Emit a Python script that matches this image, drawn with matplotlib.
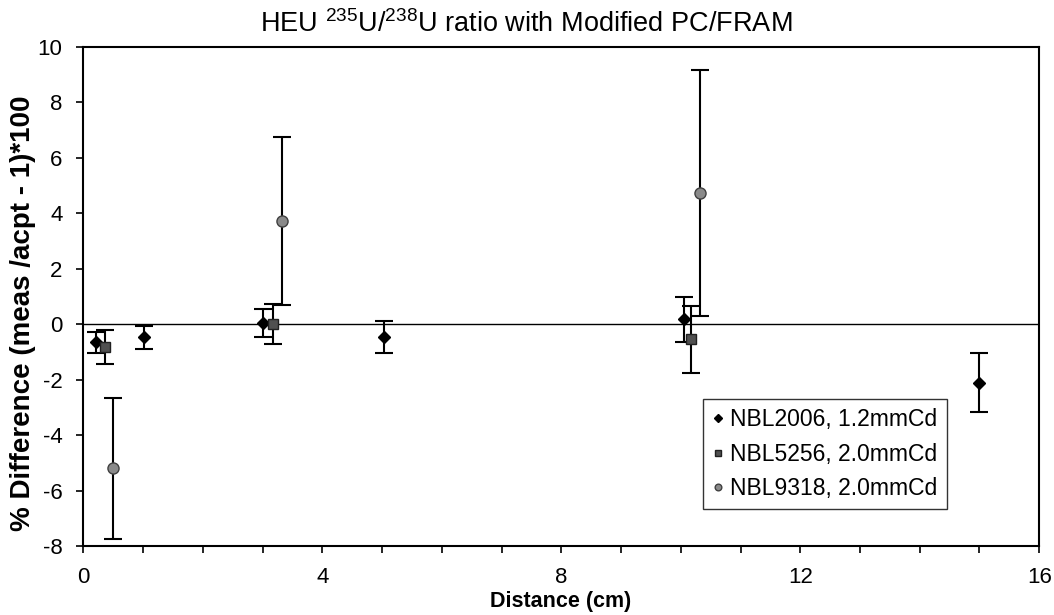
import matplotlib
matplotlib.use("Agg")
import matplotlib.pyplot as plt
from matplotlib.lines import Line2D
import numpy as np

plt.rcParams["font.family"] = ["Liberation Sans", "DejaVu Sans"]
plt.rcParams["axes.unicode_minus"] = False

# NBL2006, 1.2 mm Cd
x_2006 = [0.22, 1.02, 3.0, 5.04, 10.05, 15.0]
y_2006 = [-0.66, -0.48, 0.05, -0.46, 0.17, -2.11]
err_2006 = [0.39, 0.42, 0.50, 0.58, 0.80, 1.06]

# NBL5256, 2.0 mm Cd
x_5256 = [0.37, 3.17, 10.17]
y_5256 = [-0.82, 0.0, -0.55]
err_5256 = [0.62, 0.72, 1.20]

# NBL9318, 2.0 mm Cd
x_9318 = [0.50, 3.32, 10.33]
y_9318 = [-5.20, 3.71, 4.73]
err_9318 = [2.54, 3.03, 4.43]

labels = ["NBL2006, 1.2mmCd", "NBL5256, 2.0mmCd", "NBL9318, 2.0mmCd"]

x_ticks = np.arange(0, 17, 1)
x_labels = [str(t) if t % 4 == 0 else "" for t in x_ticks]
y_ticks = np.arange(-8, 11, 2)

W, H = 1054, 615
fig = plt.figure(figsize=(W / 100, H / 100), dpi=100)
ax = fig.add_axes([0.079, 0.112, 0.907, 0.812])

ax.axhline(0, color="black", lw=1.0, zorder=1)

styles = [
    dict(marker="D", color="black", mec="black", ms=6.5),
    dict(marker="s", color="#505050", mec="#202020", ms=7),
    dict(marker="o", color="#8a8a8a", mec="#404040", ms=8),
]
series = [(x_2006, y_2006, err_2006), (x_5256, y_5256, err_5256), (x_9318, y_9318, err_9318)]

for (xs, ys, es), st in zip(series, styles):
    ax.errorbar(xs, ys, yerr=es, ls="none", ecolor="black", elinewidth=1.5,
                capsize=6.5, capthick=1.5, zorder=3, **st)

ax.set_xlim(0, 16)
ax.set_ylim(-8, 10)
ax.set_xticks(x_ticks)
ax.set_xticklabels(x_labels)
ax.set_yticks(y_ticks)
ax.tick_params(direction="out", length=5, width=1.2, labelsize=16)
ax.tick_params(axis="y", pad=10)
ax.tick_params(axis="x", pad=10)
for sp in ax.spines.values():
    sp.set_linewidth(1.5)

fig.text(526 / W, 1 - 32 / H,
         r"HEU $^{\mathregular{235}}$U/$^{\mathregular{238}}$U ratio with Modified PC/FRAM",
         fontsize=19.5, ha="center", va="baseline")
fig.text(561 / W, 1 - 607 / H, "Distance (cm)", fontsize=15.5, fontweight="bold",
         ha="center", va="baseline")
fig.text(23 / W, 1 - 313 / H, "% Difference (meas /acpt - 1)*100", fontsize=20,
         fontweight="bold", rotation=90, ha="center", va="center")

# legend shows markers only
handles = [Line2D([], [], ls="none", **dict(st, ms=st["ms"] * 0.6)) for st in styles]
leg = fig.legend(handles, labels, loc="upper left", bbox_to_anchor=(703 / W, 1 - 399 / H),
                 fontsize=16.5, frameon=True, fancybox=False, edgecolor="black",
                 handlelength=0.5, handletextpad=0.3, borderpad=0.4, labelspacing=0.5,
                 borderaxespad=0)
leg.get_frame().set_linewidth(1.0)

fig.savefig("out.png", dpi=100)
